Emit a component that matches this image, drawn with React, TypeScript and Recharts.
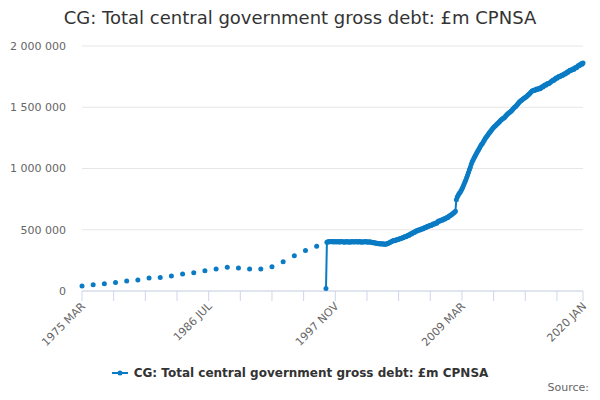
import { CartesianGrid, Line, LineChart, XAxis, YAxis } from "recharts"

const title = "CG: Total central government gross debt: £m CPNSA"
const seriesName = "CG: Total central government gross debt: £m CPNSA"
const color = "#0a7bc4"

const monthNames = ["JAN", "FEB", "MAR", "APR", "MAY", "JUN", "JUL", "AUG", "SEP", "OCT", "NOV", "DEC"]
const firstYear = 1975
const firstMonth = 2 // MAR
const periodCount = 539 // 1975 MAR .. 2020 JAN

const xTickLabels = ["1975 MAR", "1986 JUL", "1997 NOV", "2009 MAR", "2020 JAN"]
const yTicks = [0, 500000, 1000000, 1500000, 2000000]

// annual figures, one per year at March, 1975 .. 1996
const annualValues = [
  41000, 51000, 59000, 70000, 81000, 89000, 106000, 111000, 122000, 138000, 149000,
  165000, 179000, 193000, 187000, 179000, 179000, 197000, 238000, 287000, 331000, 366000,
]

// monthly figures from 1997 JAN
const monthlyStart = "1997 JAN"
const m1997 = [20000, 398000, 403000, 401000, 404000, 402000, 405000, 403000, 400000, 404000, 402000, 399000]
const m1998 = [403000, 405000, 399000, 401000, 404000, 402000, 403000, 400000, 398000, 402000, 405000, 401000]
const m1999 = [399000, 403000, 398000, 402000, 405000, 401000, 403000, 399000, 402000, 404000, 400000, 401000]
const m2000 = [404000, 402000, 397000, 400000, 403000, 399000, 402000, 405000, 401000, 398000, 403000, 400000]
const m2001 = [400000, 398000, 394000, 396000, 393000, 390000, 392000, 388000, 386000, 388000, 384000, 385000]
const m2002 = [383000, 385000, 381000, 384000, 382000, 384000, 388000, 390000, 393000, 398000, 402000, 406000]
const m2003 = [410000, 413000, 411000, 416000, 419000, 418000, 423000, 427000, 426000, 431000, 435000, 434000]
const m2004 = [440000, 445000, 443000, 450000, 456000, 454000, 462000, 468000, 466000, 474000, 480000, 478000]
const m2005 = [486000, 491000, 489000, 495000, 500000, 498000, 504000, 509000, 507000, 513000, 518000, 516000]
const m2006 = [523000, 528000, 526000, 532000, 537000, 535000, 541000, 546000, 544000, 551000, 556000, 554000]
const m2007 = [566000, 571000, 569000, 575000, 580000, 578000, 585000, 590000, 588000, 595000, 601000, 599000]
const m2008 = [610000, 615000, 619000, 625000, 630000, 636000, 643000, 652000, 745000, 768000, 782000, 795000]
const m2009 = [805000, 818000, 832000, 850000, 868000, 885000, 905000, 925000, 945000, 968000, 990000, 1010000]
const m2010 = [1035000, 1055000, 1070000, 1086000, 1100000, 1114000, 1128000, 1142000, 1156000, 1170000, 1183000, 1195000]
const m2011 = [1205000, 1218000, 1230000, 1245000, 1256000, 1265000, 1276000, 1287000, 1296000, 1306000, 1316000, 1326000]
const m2012 = [1335000, 1342000, 1350000, 1358000, 1366000, 1372000, 1380000, 1388000, 1395000, 1402000, 1408000, 1412000]
const m2013 = [1418000, 1428000, 1436000, 1445000, 1452000, 1458000, 1464000, 1470000, 1478000, 1487000, 1495000, 1502000]
const m2014 = [1508000, 1518000, 1527000, 1536000, 1545000, 1552000, 1558000, 1564000, 1570000, 1575000, 1580000, 1585000]
const m2015 = [1592000, 1600000, 1607000, 1614000, 1622000, 1630000, 1634000, 1638000, 1636000, 1642000, 1648000, 1645000]
const m2016 = [1650000, 1655000, 1652000, 1660000, 1668000, 1665000, 1675000, 1682000, 1680000, 1688000, 1694000, 1692000]
const m2017 = [1698000, 1705000, 1710000, 1716000, 1722000, 1720000, 1730000, 1738000, 1736000, 1745000, 1752000, 1750000]
const m2018 = [1756000, 1762000, 1760000, 1768000, 1774000, 1772000, 1780000, 1787000, 1785000, 1795000, 1802000, 1800000]
const m2019 = [1806000, 1812000, 1808000, 1818000, 1825000, 1822000, 1832000, 1840000, 1838000, 1848000, 1856000, 1852000]
const m2020 = [1862000]

const monthlyValues = [
  ...m1997, ...m1998, ...m1999, ...m2000, ...m2001, ...m2002, ...m2003, ...m2004,
  ...m2005, ...m2006, ...m2007, ...m2008, ...m2009, ...m2010, ...m2011, ...m2012,
  ...m2013, ...m2014, ...m2015, ...m2016, ...m2017, ...m2018, ...m2019, ...m2020,
]

const categories = Array.from({ length: periodCount }, (_, i) => {
  const k = firstMonth + i
  return `${firstYear + Math.floor(k / 12)} ${monthNames[k % 12]}`
})

const data: { m: number; label: string; value: number | null }[] = categories.map((label, i) => ({
  m: i,
  label,
  value: null,
}))
annualValues.forEach((v, i) => {
  const idx = categories.indexOf(`${firstYear + i} MAR`)
  data[idx].value = v
})
const monthlyIdx = categories.indexOf(monthlyStart)
monthlyValues.forEach((v, j) => {
  data[monthlyIdx + j].value = v
})

const lastIdx = periodCount - 1
const labelIdx = xTickLabels.map((l) => categories.indexOf(l))
const tickStep = (labelIdx[1] - labelIdx[0]) / 4
const xTicks: number[] = []
for (let t = 0; t < lastIdx; t += tickStep) xTicks.push(t)
xTicks.push(lastIdx)

const fmt = (v: number) => String(v).replace(/\B(?=(\d{3})+(?!\d))/g, " ")
const font = "'DejaVu Sans', sans-serif"

function XTick(props: any) {
  const { x, y, payload } = props
  const i = labelIdx.indexOf(payload.value)
  if (i < 0) return null
  const ax = x + 4
  const ay = y + 4
  return (
    <text
      x={ax}
      y={ay}
      textAnchor="end"
      transform={`rotate(-45 ${ax} ${ay})`}
      fill="#666666"
      fontSize={11}
      fontFamily={font}
    >
      {xTickLabels[i]}
    </text>
  )
}

export default function App() {
  return (
    <div style={{ position: "absolute", left: 0, top: 0, width: 600, height: 400, fontFamily: font, background: "#fff" }}>
      <div
        style={{
          position: "absolute",
          top: 6,
          left: 0,
          width: 600,
          textAlign: "center",
          fontSize: 18,
          lineHeight: "24px",
          color: "#333333",
        }}
      >
        {title}
      </div>
      <LineChart width={600} height={400} data={data} margin={{ top: 46, right: 17, left: 0, bottom: 79 }}>
        <CartesianGrid vertical={false} stroke="#e6e6e6" />
        <XAxis
          type="number"
          dataKey="m"
          domain={[0, lastIdx]}
          ticks={xTicks}
          interval={0}
          height={30}
          tickSize={10}
          axisLine={{ stroke: "#ccd6eb" }}
          tickLine={{ stroke: "#ccd6eb" }}
          tick={<XTick />}
        />
        <YAxis
          type="number"
          domain={[0, 2000000]}
          ticks={yTicks}
          width={82}
          tickSize={0}
          tickMargin={16}
          axisLine={false}
          tickLine={false}
          tickFormatter={fmt}
          tick={{ fill: "#666666", fontSize: 11, fontFamily: font }}
        />
        <Line
          type="linear"
          dataKey="value"
          name={seriesName}
          stroke={color}
          strokeWidth={2}
          connectNulls={false}
          dot={{ r: 2.5, fill: color, stroke: color, strokeWidth: 0 }}
          isAnimationActive={false}
        />
      </LineChart>
      <div
        style={{
          position: "absolute",
          top: 364,
          left: 0,
          width: 600,
          display: "flex",
          justifyContent: "center",
          alignItems: "center",
          fontSize: 12,
          fontWeight: "bold",
          color: "#333333",
        }}
      >
        <svg width={16} height={10} style={{ marginRight: 6 }}>
          <line x1={0} y1={5} x2={16} y2={5} stroke={color} strokeWidth={2} />
          <circle cx={8} cy={5} r={2.5} fill={color} />
        </svg>
        <span style={{ lineHeight: "18px" }}>{seriesName}</span>
      </div>
      <div style={{ position: "absolute", top: 381, right: 11, fontSize: 11, color: "#666666" }}>Source:</div>
    </div>
  )
}
